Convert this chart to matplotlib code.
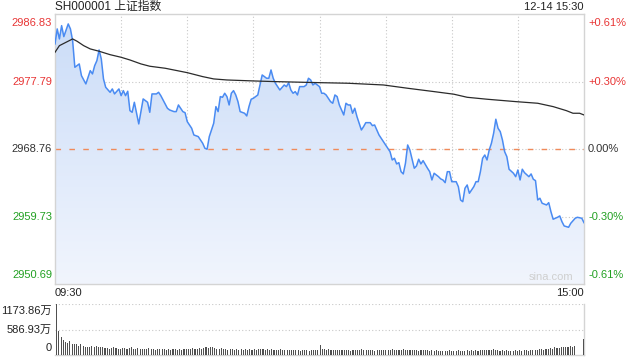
import numpy as np
import matplotlib
matplotlib.use("Agg")
import matplotlib.pyplot as plt
from matplotlib.colors import LinearSegmentedColormap

# ---------------- data ----------------
title = "SH000001 上证指数"
stamp = "12-14 15:30"
prev_close = 2968.76
price_ticks = [2950.69, 2959.73, 2968.76, 2977.79, 2986.83]
price_tick_labels = ["2950.69", "2959.73", "2968.76", "2977.79", "2986.83"]
pct_tick_labels = ["-0.61%", "-0.30%", "0.00%", "+0.30%", "+0.61%"]
time_labels = ["09:30", "15:00"]
vol_ticks = [0, 586.93, 1173.86]
vol_tick_labels = ["0", "586.93万", "1173.86万"]

# minute index (0..240) and price of the intraday line
price_min = [0, 1, 2, 3, 4, 6, 7, 8, 9, 11, 12, 14, 16, 17, 18, 19, 20, 21, 22, 23,
             25, 26, 27, 29, 30, 31, 32, 33, 34, 35, 36, 38, 40, 42, 43, 44, 46, 47, 48, 50,
             51, 52, 54, 55, 56, 58, 59, 60, 62, 63, 65, 67, 68, 69, 70, 72, 73, 74, 75, 76,
             77, 78, 79, 80, 81, 82, 83, 84, 86, 87, 88, 89, 90, 92, 93, 94, 96, 97, 98, 99,
             100, 101, 102, 104, 105, 106, 107, 108, 109, 110, 111, 113, 114, 115, 116, 117, 118, 120,
             121, 122, 123, 125, 126, 127, 128, 129, 131, 132, 133, 134, 135, 136, 137, 139, 140, 141,
             143, 144, 145, 146, 147, 149, 150, 152, 153, 154, 155, 156, 157, 158, 159, 160, 161, 162,
             163, 164, 165, 166, 167, 169, 170, 171, 172, 174, 175, 176, 177, 178, 179, 180, 182, 183,
             184, 185, 186, 187, 188, 189, 190, 191, 192, 193, 194, 195, 196, 197, 198, 199, 200, 201,
             202, 203, 204, 205, 206, 208, 209, 210, 211, 212, 213, 215, 216, 217, 218, 219, 220, 221,
             223, 224, 225, 226, 228, 229, 230, 231, 233, 234, 236, 237, 239, 240]
price_val = [2982.86, 2984.87, 2983.53, 2985.31, 2983.84, 2985.54, 2984.87, 2983.30, 2979.73, 2980.18,
             2978.61, 2977.50, 2979.28, 2978.84, 2979.95, 2980.62, 2982.05, 2980.85, 2978.17, 2977.05,
             2976.38, 2976.83, 2976.16, 2976.83, 2975.93, 2976.60, 2975.93, 2976.52, 2973.92, 2973.70,
             2975.04, 2972.14, 2975.49, 2975.04, 2973.70, 2976.16, 2976.16, 2976.38, 2975.93, 2974.82,
             2974.24, 2974.01, 2973.79, 2973.79, 2974.68, 2973.79, 2973.65, 2972.45, 2971.56, 2970.66,
             2970.44, 2969.55, 2968.88, 2968.75, 2970.44, 2972.23, 2974.46, 2973.79, 2975.80, 2975.71,
             2976.25, 2975.80, 2974.68, 2976.25, 2976.60, 2976.02, 2975.13, 2973.79, 2973.57, 2973.21,
             2974.46, 2975.45, 2975.58, 2976.02, 2977.36, 2978.70, 2978.26, 2978.26, 2979.37, 2978.26,
             2977.59, 2977.14, 2976.69, 2977.36, 2977.14, 2977.67, 2976.69, 2976.25, 2976.47, 2976.02,
             2977.14, 2977.14, 2977.36, 2978.26, 2978.03, 2977.36, 2977.59, 2977.14,
             2976.25, 2976.25, 2976.02, 2975.13, 2974.91, 2976.02, 2975.80, 2974.68, 2973.34, 2974.91,
             2974.68, 2974.68, 2973.57, 2974.24, 2973.12, 2971.33, 2971.78, 2972.31,
             2972.31, 2971.91, 2972.00, 2971.33, 2970.66, 2969.77, 2969.32, 2968.42, 2967.31, 2967.54,
             2966.78, 2966.95, 2965.74, 2965.44, 2966.87, 2969.32, 2968.65, 2967.41,
             2966.20, 2966.51, 2967.41, 2966.78, 2967.22, 2966.20, 2965.74, 2964.63, 2965.53, 2965.07,
             2964.77, 2964.63, 2964.27, 2965.74, 2965.74, 2964.40, 2964.40, 2963.73,
             2961.95, 2961.72, 2963.52, 2963.96, 2962.85, 2963.29, 2963.73, 2964.40, 2964.40, 2965.74,
             2967.54, 2967.98, 2967.31, 2968.65, 2969.55, 2970.89, 2972.77, 2971.56,
             2971.11, 2969.99, 2968.42, 2967.75, 2966.07, 2965.53, 2965.07, 2965.97, 2964.63, 2966.07,
             2965.61, 2965.07, 2965.44, 2964.73, 2964.54, 2961.95, 2962.18, 2961.51,
             2961.28, 2961.59, 2960.38, 2959.37, 2959.63, 2959.81, 2959.04, 2958.47, 2958.29, 2958.83,
             2959.50, 2959.63, 2959.50, 2958.91]

# average price line
avg_min = [0, 2, 5, 8, 10, 13, 16, 20, 25, 30, 34, 39, 43, 50, 60, 67, 72, 78, 90, 100,
           120, 133, 149, 160, 172, 181, 187, 196, 209, 219, 226, 232, 235, 238, 240]
avg_val = [2981.74, 2982.63, 2983.08, 2983.53, 2983.22, 2982.63, 2982.19, 2981.88, 2981.42, 2981.07,
           2980.71, 2980.18, 2979.87, 2979.60, 2979.01, 2978.48, 2978.17, 2978.03, 2977.90, 2977.81,
           2977.67, 2977.59, 2977.36, 2976.92, 2976.47, 2976.12, 2975.71, 2975.45, 2975.13, 2974.91,
           2974.46, 2973.92, 2973.57, 2973.57, 2973.34]

# per-minute volume (万)
volume = [1173.86, 563, 409, 347, 309, 286, 332, 255, 255, 255,
          208, 255, 208, 193, 178, 178, 208, 178, 208, 193,
          178, 178, 162, 170, 150, 165, 185, 160, 150, 140,
          155, 170, 145, 160, 175, 150, 140, 165, 150, 135,
          145, 130, 160, 150, 140, 125, 135, 150, 130, 140,
          125, 135, 120, 145, 130, 125, 140, 120, 130, 150,
          135, 140, 155, 130, 145, 160, 150, 170, 180, 165,
          175, 185, 160, 150, 140, 155, 130, 145, 125, 135,
          140, 120, 130, 125, 145, 120, 130, 115, 135, 125,
          130, 120, 140, 150, 135, 125, 140, 120, 130, 115,
          120, 110, 130, 115, 125, 110, 120, 105, 115, 110,
          120, 100, 115, 105, 110, 100, 115, 105, 110, 120,
          240, 150, 130, 120, 135, 115, 125, 110, 120, 105,
          115, 125, 105, 110, 100, 115, 105, 120, 110, 130,
          115, 125, 105, 110, 120, 100, 115, 105, 125, 110,
          120, 105, 115, 130, 110, 120, 105, 125, 135, 115,
          125, 110, 120, 105, 115, 100, 110, 120, 105, 115,
          100, 110, 95, 105, 100, 90, 100, 85, 95, 105,
          90, 100, 85, 110, 95, 100, 90, 105, 95, 110,
          100, 115, 95, 105, 120, 110, 125, 115, 105, 130,
          120, 110, 100, 115, 95, 105, 90, 100, 95, 110,
          100, 115, 95, 105, 110, 100, 120, 105, 115, 125,
          130, 145, 125, 150, 140, 160, 150, 175, 160, 170,
          185, 175, 195, 180, 200, 190, 210,
          0, 0, 0,
          371]
vol_min = list(range(len(volume)))

# ---------------- styling ----------------
RED = "#e83535"
GREEN = "#22a022"
DARK = "#333333"
FRAME = "#d4d4d4"
GRID = "#c8c8c8"
LAT = ["Liberation Sans", "Noto Sans CJK SC", "DejaVu Sans"]
plt.rcParams["font.family"] = LAT

W, H = 640, 360
fig = plt.figure(figsize=(6.4, 3.6), dpi=100)
fig.patch.set_facecolor("white")

L, R = 55, 584
T, B = 14.3, 284
ax = fig.add_axes([L / W, 1 - B / H, (R - L) / W, (B - T) / H])
ymin, ymax = price_ticks[0], price_ticks[-1]

# gradient fill under the price line
poly = ax.fill_between(price_min, price_val, ymin, color="none", lw=0)
cmap = LinearSegmentedColormap.from_list("g", ["#f1f5fd", "#cadcf8"])
grad = np.linspace(0, 1, 256).reshape(-1, 1)
im = ax.imshow(grad, extent=[0, 240, ymin, ymax], origin="lower", aspect="auto",
               cmap=cmap, zorder=1)
im.set_clip_path(poly.get_paths()[0], transform=ax.transData)

# grid
for v in range(30, 240, 30):
    ax.axvline(v, color=GRID, lw=0.8, ls=(0, (1, 2)), zorder=0.5)
for v in [price_ticks[1], price_ticks[2], price_ticks[3]]:
    ax.axhline(v, color=GRID, lw=0.8, ls=(0, (1, 2)), zorder=0.5)
ax.axhline(prev_close, color="#f08a5a", lw=1.0, ls=(0, (4, 6)), zorder=2)

ax.plot(price_min, price_val, color="#4a8bf2", lw=1.1, zorder=3)
ax.plot(avg_min, avg_val, color="#2b2b2b", lw=0.9, zorder=3)

ax.set_xlim(0, 240)
ax.set_ylim(ymin, ymax)
ax.set_xticks([])
ax.set_yticks([])
for s in ax.spines.values():
    s.set_color(FRAME)
    s.set_linewidth(1.0)

# left / right axis labels
cols = [GREEN, GREEN, DARK, RED, RED]
vas = ["bottom", "center", "center", "center", "top"]
for v, lab, plab, c, va in zip(price_ticks, price_tick_labels, pct_tick_labels, cols, vas):
    dy = 0
    if va == "bottom":
        dy = 0.6
    elif va == "top":
        dy = -0.5
    ax.text(-3 / 2.204, v + dy, lab, color=c, fontsize=8, ha="right", va=va,
            family="Liberation Sans")
    ax.text(240 + 4 / 2.204, v + dy, plab, color=c, fontsize=8, ha="left", va=va,
            family="Liberation Sans")

ax.text(240 - 5, ymin + 0.3, "sina.com", color="#cfcfcf", fontsize=8, ha="right",
        va="bottom", family="Liberation Sans")

fig.text(L / W, 1 - 7 / H, title, fontsize=8.5, color="#222222", ha="left", va="center",
         family=LAT)
fig.text(R / W, 1 - 7 / H, stamp, fontsize=8, color="#222222", ha="right", va="center",
         family="Liberation Sans")
fig.text(L / W, 1 - 293 / H, time_labels[0], fontsize=8, color="#222222", ha="left",
         va="center", family="Liberation Sans")
fig.text(R / W, 1 - 293 / H, time_labels[1], fontsize=8, color="#222222", ha="right",
         va="center", family="Liberation Sans")

# volume panel
VT, VB = 304.3, 355
axv = fig.add_axes([L / W, 1 - VB / H, (R - L) / W, (VB - VT) / H])
axv.bar(vol_min, volume, width=0.5, color="#505050", zorder=3)
axv.set_xlim(-0.8, 240.3)
axv.set_ylim(0, vol_ticks[-1])
axv.axhline(vol_ticks[1], color=GRID, lw=0.8, ls=(0, (1, 2)), zorder=0.5)
axv.axhline(vol_ticks[2], color=GRID, lw=0.8, ls=(0, (1, 2)), zorder=0.5)
axv.set_xticks([])
axv.set_yticks([])
for k, s in axv.spines.items():
    s.set_color(FRAME)
    s.set_linewidth(1.0)
axv.spines["top"].set_visible(False)
axv.spines["left"].set_visible(False)
vy = [348, 329.5, 311]
for lab, yy in zip(vol_tick_labels, vy):
    fig.text(52 / W, 1 - yy / H, lab, fontsize=8, color="#222222", ha="right",
             va="center", family=LAT)

fig.savefig("out.png", dpi=100)
